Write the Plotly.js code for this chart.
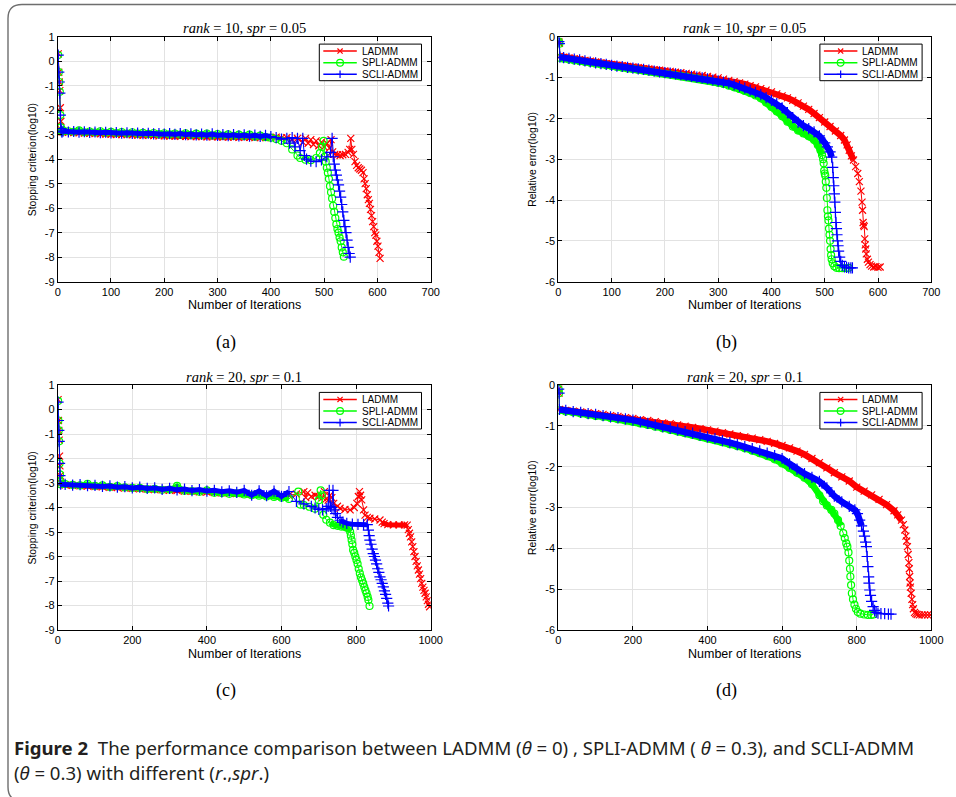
<!DOCTYPE html>
<html><head><meta charset="utf-8">
<script src="https://cdn.plot.ly/plotly-3.0.1.min.js"></script>
<style>html,body{margin:0;padding:0;background:#fff;} #chart{width:956px;height:797px;}</style>
</head><body><div id="chart"></div>
<script>
// ---------------- DATA ----------------
const seriesNames = ['LADMM', 'SPLI-ADMM', 'SCLI-ADMM'];
const panelTitles = ['<i>rank</i> = 10, <i>spr</i> = 0.05', '<i>rank</i> = 10, <i>spr</i> = 0.05', '<i>rank</i> = 20, <i>spr</i> = 0.1', '<i>rank</i> = 20, <i>spr</i> = 0.1'];
const panelLetters = ['(a)', '(b)', '(c)', '(d)'];
const yTitles = ['Stopping criterion(log10)', 'Relative error(log10)', 'Stopping criterion(log10)', 'Relative error(log10)'];
const xTitle = 'Number of Iterations';
const xTicksAB = [0, 100, 200, 300, 400, 500, 600, 700];
const xTicksCD = [0, 200, 400, 600, 800, 1000];
const yTicksSC = [-9, -8, -7, -6, -5, -4, -3, -2, -1, 0, 1];
const yTicksRE = [-6, -5, -4, -3, -2, -1, 0];

// Panel (a): stopping criterion, rank=10, spr=0.05
const itA_head = [1, 2, 3, 4, 5, 6, 7, 8];
const itA_body = [10, 20, 30, 40, 50, 60, 70, 80, 90, 100, 110, 120, 130, 140, 150, 160, 170, 180, 190, 200, 210, 220, 230, 240, 250, 260, 270, 280, 290, 300, 310, 320, 330, 340, 350, 360, 370, 380, 390, 400];
const scA_LADMM_head = [0.3, -0.45, -0.85, -1.2, -1.9, -2.45, -2.8, -2.88];
const scA_LADMM_body = [-2.88, -2.9, -2.91, -2.92, -2.93, -2.94, -2.95, -2.96, -2.97, -2.98, -2.99, -3.0, -3.0, -3.01, -3.02, -3.03, -3.03, -3.04, -3.05, -3.05, -3.06, -3.06, -3.07, -3.07, -3.08, -3.08, -3.08, -3.09, -3.09, -3.09, -3.1, -3.1, -3.1, -3.11, -3.11, -3.11, -3.12, -3.12, -3.12, -3.12];
const itA_LADMM_tail = [410, 420, 430, 440, 450, 460, 465, 470, 475, 480, 485, 490, 495, 500, 505, 510, 513, 516, 520, 525, 530, 535, 540, 545, 548, 550, 552, 555, 558, 561, 564, 567, 570, 573, 575, 577, 579, 581, 583, 585, 587, 589, 591, 593, 595, 597, 599, 601, 603, 605];
const scA_LADMM_tail = [-3.1, -3.13, -3.12, -3.2, -3.15, -3.3, -3.15, -3.35, -3.2, -3.4, -3.25, -3.45, -3.3, -3.5, -3.35, -3.55, -3.2, -3.7, -3.8, -3.82, -3.85, -3.82, -3.8, -3.72, -3.6, -3.15, -3.6, -3.8, -4.1, -4.25, -4.35, -4.4, -4.45, -4.55, -4.8, -5.0, -5.2, -5.45, -5.65, -5.8, -6.05, -6.3, -6.55, -6.75, -7.0, -7.1, -7.35, -7.55, -7.8, -8.05];
const scA_SPLI_head = [0.25, -0.45, -0.85, -1.25, -2.2, -2.7, -2.85, -2.88];
const scA_SPLI_body = [-2.83, -2.86, -2.88, -2.82, -2.9, -2.87, -2.91, -2.86, -2.92, -2.88, -2.93, -2.89, -2.95, -2.9, -2.96, -2.92, -2.97, -2.93, -2.98, -2.94, -2.99, -2.95, -3.0, -2.94, -3.01, -2.96, -3.02, -2.95, -3.03, -2.98, -3.04, -2.99, -3.05, -3.0, -3.06, -3.0, -3.08, -3.04, -3.1, -3.12];
const itA_SPLI_tail = [410, 420, 430, 440, 450, 455, 465, 475, 485, 492, 496, 499, 501, 503, 505, 507, 509, 511, 513, 515, 517, 519, 521, 523, 525, 527, 529, 531, 533, 535, 537];
const scA_SPLI_tail = [-3.18, -3.25, -3.35, -3.6, -3.85, -3.95, -4.02, -4.04, -3.95, -3.75, -3.5, -3.25, -3.9, -4.1, -4.35, -4.55, -4.8, -5.1, -5.35, -5.6, -5.9, -6.15, -6.4, -6.65, -6.85, -7.0, -7.2, -7.35, -7.6, -7.8, -7.98];
const scA_SCLI_head = [0.25, -0.45, -0.85, -1.3, -2.2, -2.75, -2.85, -2.9];
const scA_SCLI_body = [-2.86, -2.89, -2.87, -2.9, -2.88, -2.91, -2.89, -2.92, -2.9, -2.93, -2.91, -2.94, -2.92, -2.95, -2.93, -2.96, -2.94, -2.97, -2.95, -2.98, -2.96, -2.99, -2.95, -3.0, -2.97, -3.01, -2.98, -3.02, -2.97, -3.03, -3.0, -3.04, -3.0, -3.05, -3.01, -3.06, -3.02, -3.07, -3.03, -3.08];
const itA_SCLI_tail = [410, 420, 430, 435, 440, 445, 450, 455, 460, 463, 467, 475, 485, 495, 505, 512, 515, 517, 519, 521, 523, 525, 527, 529, 531, 533, 535, 537, 539, 541, 543, 545, 547, 549];
const scA_SCLI_tail = [-3.12, -3.18, -3.15, -3.35, -3.12, -3.5, -3.15, -3.65, -3.15, -3.85, -4.0, -4.08, -4.1, -4.03, -3.9, -3.72, -3.15, -3.9, -4.2, -4.45, -4.65, -4.85, -5.05, -5.3, -5.55, -5.85, -6.15, -6.5, -6.75, -7.0, -7.3, -7.6, -7.85, -8.0];

// Panel (b): relative error, rank=10, spr=0.05
const itB_head = [1, 2, 3];
const itB_body = [10, 20, 30, 40, 50, 60, 70, 80, 90, 100, 110, 120, 130, 140, 150, 160, 170, 180, 190, 200, 210, 220, 230, 240, 250, 260, 270, 280, 290, 300, 310, 320, 330, 340, 350, 360, 370, 380, 390, 400, 410, 420, 430, 440, 450, 460, 470, 480];
const reB_LADMM_head = [-0.12, -0.16, -0.48];
const reB_LADMM_body = [-0.50, -0.52, -0.54, -0.56, -0.58, -0.60, -0.62, -0.64, -0.66, -0.68, -0.70, -0.71, -0.73, -0.74, -0.76, -0.78, -0.79, -0.81, -0.82, -0.84, -0.85, -0.87, -0.88, -0.90, -0.92, -0.94, -0.95, -0.97, -0.99, -1.01, -1.04, -1.07, -1.10, -1.13, -1.16, -1.20, -1.23, -1.27, -1.31, -1.35, -1.40, -1.45, -1.50, -1.56, -1.62, -1.70, -1.78, -1.88];
const itB_LADMM_tail = [490, 500, 510, 520, 530, 537, 542, 546, 550, 554, 558, 562, 565, 568, 570, 571, 572, 573, 574, 575, 576, 577, 578, 580, 582, 585, 588, 592, 596, 600, 604];
const reB_LADMM_tail = [-1.98, -2.09, -2.20, -2.31, -2.42, -2.53, -2.65, -2.78, -2.92, -3.02, -3.18, -3.35, -3.55, -3.78, -4.05, -4.25, -4.55, -4.62, -4.65, -4.95, -5.1, -5.2, -5.32, -5.45, -5.52, -5.58, -5.62, -5.64, -5.63, -5.65, -5.64];
const reB_SPLI_head = [-0.12, -0.17, -0.52];
const reB_SPLI_body = [-0.54, -0.56, -0.58, -0.60, -0.62, -0.64, -0.66, -0.68, -0.70, -0.72, -0.74, -0.76, -0.78, -0.79, -0.81, -0.83, -0.85, -0.87, -0.89, -0.91, -0.92, -0.94, -0.96, -0.98, -1.00, -1.02, -1.05, -1.07, -1.10, -1.13, -1.16, -1.20, -1.24, -1.28, -1.33, -1.38, -1.44, -1.51, -1.61, -1.72, -1.83, -1.95, -2.08, -2.20, -2.30, -2.37, -2.44, -2.53];
const itB_SPLI_tail = [487, 492, 495, 497, 498, 499, 500, 501, 502, 503, 504, 505, 506, 507, 508, 509, 510, 511, 512, 513, 515, 518, 522, 527, 533, 540, 545];
const reB_SPLI_tail = [-2.65, -2.78, -2.9, -3.0, -3.1, -3.28, -3.35, -3.4, -3.55, -3.7, -3.95, -4.25, -4.4, -4.5, -4.7, -4.85, -5.0, -5.2, -5.35, -5.45, -5.55, -5.62, -5.66, -5.67, -5.67, -5.67, -5.66];
const reB_SCLI_head = [-0.12, -0.17, -0.5];
const reB_SCLI_body = [-0.51, -0.53, -0.55, -0.57, -0.59, -0.62, -0.64, -0.66, -0.68, -0.70, -0.72, -0.73, -0.75, -0.77, -0.79, -0.80, -0.82, -0.84, -0.86, -0.88, -0.89, -0.91, -0.93, -0.95, -0.97, -0.99, -1.01, -1.03, -1.06, -1.08, -1.11, -1.14, -1.18, -1.22, -1.26, -1.31, -1.36, -1.42, -1.49, -1.56, -1.64, -1.74, -1.86, -1.98, -2.10, -2.18, -2.25, -2.33];
const itB_SCLI_tail = [490, 500, 505, 510, 513, 515, 516, 517, 518, 519, 520, 521, 522, 523, 524, 525, 526, 528, 530, 533, 537, 541, 545, 549, 552];
const reB_SCLI_tail = [-2.43, -2.60, -2.70, -2.82, -2.95, -3.2, -3.45, -3.65, -3.85, -4.05, -4.3, -4.55, -4.7, -4.85, -5.0, -5.12, -5.25, -5.4, -5.5, -5.6, -5.64, -5.65, -5.66, -5.66, -5.66];

// Panel (c): stopping criterion, rank=20, spr=0.1
const itC_head = [1, 2, 3, 4, 5, 6, 7, 8];
const itC_body = [20, 40, 60, 80, 100, 120, 140, 160, 180, 200, 220, 240, 260, 280, 300, 320, 340, 360, 380, 400, 420, 440, 460, 480, 500, 520, 540, 560, 580, 600, 620];
const scC_LADMM_head = [0.4, -0.45, -0.85, -1.25, -1.9, -2.3, -2.7, -3.0];
const scC_LADMM_body = [-3.08, -3.1, -3.12, -3.13, -3.15, -3.16, -3.18, -3.19, -3.21, -3.22, -3.24, -3.25, -3.27, -3.28, -3.3, -3.31, -3.33, -3.34, -3.36, -3.37, -3.39, -3.4, -3.42, -3.43, -3.45, -3.46, -3.48, -3.49, -3.5, -3.52, -3.5];
const itC_LADMM_tail = [640, 660, 665, 670, 680, 690, 700, 710, 715, 720, 725, 730, 735, 740, 750, 757, 770, 784, 795, 802, 806, 809, 812, 815, 820, 824, 830, 837, 850, 864, 870, 875, 885, 900, 915, 930, 937, 940, 943, 946, 949, 952, 955, 958, 961, 964, 967, 970, 973, 976, 979, 982, 985, 988, 991, 994, 997];
const scC_LADMM_tail = [-3.45, -3.35, -3.6, -3.4, -3.55, -3.5, -3.55, -3.6, -3.35, -3.65, -3.7, -3.5, -3.6, -3.83, -3.95, -4.03, -4.08, -4.1, -4.0, -3.83, -3.55, -3.35, -3.5, -3.69, -4.1, -4.31, -4.4, -4.44, -4.47, -4.51, -4.6, -4.66, -4.7, -4.71, -4.71, -4.71, -4.72, -4.9, -5.05, -5.2, -5.4, -5.6, -5.8, -6.0, -6.2, -6.38, -6.55, -6.72, -6.9, -7.1, -7.25, -7.38, -7.5, -7.65, -7.8, -7.95, -8.05];
const scC_SPLI_head = [0.35, -0.45, -0.85, -1.3, -2.2, -2.65, -2.95, -3.05];
const scC_SPLI_body = [-3.04, -3.08, -3.1, -3.03, -3.12, -3.1, -3.16, -3.13, -3.18, -3.2, -3.2, -3.25, -3.24, -3.28, -3.27, -3.12, -3.32, -3.33, -3.36, -3.3, -3.4, -3.41, -3.44, -3.42, -3.47, -3.5, -3.52, -3.55, -3.57, -3.6, -3.65];
const itC_SPLI_tail = [645, 650, 660, 675, 690, 700, 705, 708, 712, 720, 730, 740, 750, 760, 770, 778, 784, 786, 788, 790, 792, 795, 798, 801, 804, 807, 810, 813, 816, 819, 822, 825, 828, 831, 833, 836];
const scC_SPLI_tail = [-3.35, -3.88, -3.9, -3.97, -4.05, -3.7, -3.3, -3.5, -4.3, -4.5, -4.62, -4.72, -4.75, -4.78, -4.8, -4.85, -4.99, -5.15, -5.33, -5.5, -5.73, -5.85, -6.0, -6.14, -6.3, -6.5, -6.69, -6.85, -6.97, -7.1, -7.25, -7.38, -7.5, -7.65, -7.78, -8.02];
const scC_SCLI_head = [0.3, -0.45, -0.85, -1.3, -2.2, -2.7, -3.0, -3.05];
const scC_SCLI_body = [-3.06, -3.09, -3.07, -3.11, -3.1, -3.14, -3.12, -3.17, -3.15, -3.2, -3.17, -3.22, -3.2, -3.26, -3.22, -3.28, -3.25, -3.31, -3.27, -3.33, -3.3, -3.36, -3.32, -3.38, -3.3, -3.5, -3.32, -3.52, -3.33, -3.55, -3.35];
const itC_SCLI_tail = [640, 660, 680, 690, 700, 710, 720, 725, 728, 731, 735, 738, 741, 745, 750, 757, 765, 775, 790, 805, 820, 830, 833, 835, 837, 840, 843, 846, 849, 852, 855, 858, 861, 864, 867, 870, 873, 876, 879, 882, 885, 887];
const scC_SCLI_tail = [-3.75, -3.85, -3.95, -4.02, -4.08, -4.1, -4.05, -3.95, -3.3, -3.95, -4.0, -3.3, -4.1, -4.25, -4.4, -4.52, -4.6, -4.65, -4.68, -4.69, -4.69, -4.7, -4.92, -5.15, -5.33, -5.5, -5.7, -5.88, -6.0, -6.15, -6.3, -6.5, -6.65, -6.83, -6.95, -7.1, -7.24, -7.4, -7.55, -7.71, -7.9, -8.02];

// Panel (d): relative error, rank=20, spr=0.1
const itD_head = [1, 2, 3];
const itD_body = [20, 40, 60, 80, 100, 120, 140, 160, 180, 200, 220, 240, 260, 280, 300, 320, 340, 360, 380, 400, 420, 440, 460, 480, 500, 520, 540, 560, 580, 600];
const reD_LADMM_head = [-0.1, -0.2, -0.6];
const reD_LADMM_body = [-0.62, -0.64, -0.66, -0.68, -0.7, -0.72, -0.75, -0.77, -0.8, -0.82, -0.85, -0.87, -0.9, -0.93, -0.95, -0.98, -1.01, -1.04, -1.07, -1.1, -1.13, -1.17, -1.2, -1.24, -1.27, -1.3, -1.34, -1.38, -1.43, -1.48];
const itD_LADMM_tail = [620, 640, 660, 680, 700, 720, 740, 760, 780, 800, 820, 840, 860, 880, 900, 910, 920, 925, 929, 932, 934, 936, 938, 940, 941, 942, 943, 944, 946, 948, 950, 952, 955, 958, 962, 968, 975, 982, 990, 998];
const reD_LADMM_tail = [-1.54, -1.62, -1.7, -1.8, -1.9, -2.03, -2.15, -2.25, -2.35, -2.5, -2.6, -2.69, -2.8, -2.93, -3.08, -3.18, -3.31, -3.42, -3.55, -3.7, -3.82, -3.96, -4.15, -4.35, -4.5, -4.69, -4.85, -4.95, -5.1, -5.25, -5.38, -5.48, -5.57, -5.6, -5.62, -5.63, -5.63, -5.63, -5.63, -5.63];
const reD_SPLI_head = [-0.1, -0.2, -0.62];
const reD_SPLI_body = [-0.65, -0.67, -0.7, -0.73, -0.76, -0.78, -0.81, -0.84, -0.87, -0.9, -0.94, -0.98, -1.02, -1.06, -1.1, -1.14, -1.18, -1.22, -1.27, -1.31, -1.35, -1.4, -1.45, -1.5, -1.55, -1.61, -1.67, -1.74, -1.82, -1.92];
const itD_SPLI_tail = [620, 640, 660, 680, 700, 710, 720, 732, 740, 750, 757, 764, 768, 772, 775, 778, 780, 782, 783, 785, 787, 790, 794, 798, 803, 810, 820, 830, 839, 845];
const reD_SPLI_tail = [-2.03, -2.15, -2.27, -2.43, -2.7, -2.85, -2.95, -3.06, -3.15, -3.31, -3.45, -3.63, -3.75, -3.88, -3.96, -4.1, -4.3, -4.5, -4.69, -4.9, -5.1, -5.25, -5.38, -5.48, -5.56, -5.6, -5.62, -5.63, -5.63, -5.62];
const reD_SCLI_head = [-0.1, -0.2, -0.6];
const reD_SCLI_body = [-0.62, -0.65, -0.67, -0.7, -0.72, -0.75, -0.78, -0.8, -0.83, -0.86, -0.9, -0.94, -0.98, -1.02, -1.06, -1.1, -1.14, -1.18, -1.23, -1.27, -1.31, -1.36, -1.41, -1.46, -1.51, -1.56, -1.61, -1.67, -1.73, -1.8];
const itD_SCLI_tail = [620, 640, 660, 680, 700, 720, 740, 760, 780, 795, 802, 808, 813, 818, 821, 824, 826, 828, 830, 832, 833, 835, 837, 840, 844, 848, 852, 857, 865, 875, 885, 892];
const reD_SCLI_tail = [-1.93, -2.06, -2.17, -2.26, -2.36, -2.52, -2.72, -2.86, -2.97, -3.06, -3.15, -3.31, -3.45, -3.58, -3.7, -3.85, -3.96, -4.2, -4.45, -4.7, -4.85, -5.02, -5.15, -5.3, -5.43, -5.52, -5.57, -5.59, -5.6, -5.6, -5.61, -5.61];

const captionLine1 = '<b>Figure 2</b>  The performance comparison between LADMM (<i>θ</i> = 0) , SPLI-ADMM ( <i>θ</i> = 0.3), and SCLI-ADMM';
const captionLine2 = '(<i>θ</i> = 0.3) with different (<i>r</i>.,<i>spr</i>.)';

// ---------------- STYLE / LAYOUT ----------------
const W = 956, H = 797;
const X = p => p / W, Y = p => 1 - p / H;
const colors = ['#ff0000', '#00ff00', '#0000ff'];
const symbols = ['x-thin-open', 'circle-open', 'cross-thin-open'];
const msizes = [7, 7, 8];

// plot areas in pixels [left, right, top, bottom]
const boxes = [
  [57.7, 430.7, 36.7, 281.7],
  [558.3, 931.3, 36.7, 281.7],
  [57.7, 430.7, 385, 630],
  [558.3, 931.3, 385, 630]
];

// iteration ranges where the per-iteration markers merge into a dense band (drawn as a thick stroke)
const denseRanges = [
  [[[10, 400]], [[10, 400]], [[10, 400]]],
  [[[3, 554]], [[3, 495]], [[3, 513]]],
  [[[8, 620], [870, 937]], [[8, 640], [730, 784]], [[8, 620], [757, 830]]],
  [[[3, 920]], [[3, 757]], [[3, 813]]]
];
const bandWidth = [5, 6.5, 5, 6.5];

function trace(xs, ys, k, ax) {
  return {
    type: 'scatter', mode: 'lines+markers', x: xs, y: ys,
    xaxis: 'x' + ax, yaxis: 'y' + ax, showlegend: false, hoverinfo: 'skip',
    line: {color: colors[k], width: 1},
    marker: {symbol: symbols[k], size: msizes[k], color: colors[k], line: {color: colors[k], width: 1.2}}
  };
}
function band(xs, ys, k, ax, ranges, w) {
  const bx = [], by = [];
  ranges.forEach((r, j) => {
    if (j > 0) { bx.push(null); by.push(null); }
    xs.forEach((v, i) => { if (v >= r[0] && v <= r[1]) { bx.push(v); by.push(ys[i]); } });
  });
  return {
    type: 'scatter', mode: 'lines', x: bx, y: by, connectgaps: false,
    xaxis: 'x' + ax, yaxis: 'y' + ax, showlegend: false, hoverinfo: 'skip',
    line: {color: colors[k], width: w}
  };
}
const cat = (...a) => [].concat(...a);

const series = [
  [cat(itA_head, itA_body, itA_LADMM_tail), cat(scA_LADMM_head, scA_LADMM_body, scA_LADMM_tail)],
  [cat(itA_head, itA_body, itA_SPLI_tail), cat(scA_SPLI_head, scA_SPLI_body, scA_SPLI_tail)],
  [cat(itA_head, itA_body, itA_SCLI_tail), cat(scA_SCLI_head, scA_SCLI_body, scA_SCLI_tail)],
  [cat(itB_head, itB_body, itB_LADMM_tail), cat(reB_LADMM_head, reB_LADMM_body, reB_LADMM_tail)],
  [cat(itB_head, itB_body, itB_SPLI_tail), cat(reB_SPLI_head, reB_SPLI_body, reB_SPLI_tail)],
  [cat(itB_head, itB_body, itB_SCLI_tail), cat(reB_SCLI_head, reB_SCLI_body, reB_SCLI_tail)],
  [cat(itC_head, itC_body, itC_LADMM_tail), cat(scC_LADMM_head, scC_LADMM_body, scC_LADMM_tail)],
  [cat(itC_head, itC_body, itC_SPLI_tail), cat(scC_SPLI_head, scC_SPLI_body, scC_SPLI_tail)],
  [cat(itC_head, itC_body, itC_SCLI_tail), cat(scC_SCLI_head, scC_SCLI_body, scC_SCLI_tail)],
  [cat(itD_head, itD_body, itD_LADMM_tail), cat(reD_LADMM_head, reD_LADMM_body, reD_LADMM_tail)],
  [cat(itD_head, itD_body, itD_SPLI_tail), cat(reD_SPLI_head, reD_SPLI_body, reD_SPLI_tail)],
  [cat(itD_head, itD_body, itD_SCLI_tail), cat(reD_SCLI_head, reD_SCLI_body, reD_SCLI_tail)]
];
const data = [];
series.forEach((s, idx) => {
  const p = Math.floor(idx / 3), k = idx % 3, ax = p === 0 ? '' : String(p + 1);
  data.push(band(s[0], s[1], k, ax, denseRanges[p][k], bandWidth[p]));
  data.push(trace(s[0], s[1], k, ax));
});

const tickFont = {family: 'Liberation Sans, Arial, sans-serif', size: 11, color: '#000'};
const axCommon = {
  showline: true, linecolor: '#000', linewidth: 1, mirror: 'ticks',
  ticks: 'inside', ticklen: 4, tickwidth: 1, tickcolor: '#000',
  showgrid: true, gridcolor: '#e2e2e2', gridwidth: 1, zeroline: false,
  tickfont: tickFont, fixedrange: true, tickmode: 'array'
};
function xAx(b, ticks, anchor) {
  return Object.assign({}, axCommon, {domain: [X(b[0]), X(b[1])], range: [ticks[0], ticks[ticks.length - 1]], tickvals: ticks, ticktext: ticks.map(String), anchor: anchor});
}
function yAx(b, ticks, anchor) {
  return Object.assign({}, axCommon, {domain: [Y(b[3]), Y(b[2])], range: [ticks[0], ticks[ticks.length - 1]], tickvals: ticks, ticktext: ticks.map(String), anchor: anchor});
}

const annotations = [];
const shapes = [];
const labelFont = {family: 'Liberation Sans, Arial, sans-serif', size: 12.5, color: '#000'};
const ylabelFont = {family: 'Liberation Sans, Arial, sans-serif', size: 10.4, color: '#000'};
const titleFont = {family: 'Liberation Serif, Times New Roman, serif', size: 14.5, color: '#000'};
const letterFont = {family: 'Liberation Serif, Times New Roman, serif', size: 18, color: '#000'};
const legFont = {family: 'Liberation Sans, Arial, sans-serif', size: 10, color: '#000'};

function ann(x, y, text, font, extra) {
  annotations.push(Object.assign({xref: 'paper', yref: 'paper', x: X(x), y: Y(y), text: text, showarrow: false, font: font, xanchor: 'center', yanchor: 'middle'}, extra || {}));
}

boxes.forEach((b, i) => {
  const cx = (b[0] + b[1]) / 2, cy = (b[2] + b[3]) / 2;
  ann(cx, b[2] - 8.5, panelTitles[i], titleFont);
  ann(cx, b[3] + 23.5, xTitle, labelFont);
  ann(b[0] - 25.7, cy, yTitles[i], ylabelFont, {textangle: -90});
  ann(cx - 18.5, b[3] + 60.5, panelLetters[i], letterFont);

  // legend box
  const lx0 = b[1] - 111.4, lx1 = b[1] - 9.2, ly0 = b[2] + 7.4, ly1 = b[2] + 44;
  shapes.push({type: 'rect', xref: 'paper', yref: 'paper', x0: X(lx0), x1: X(lx1), y0: Y(ly1), y1: Y(ly0), line: {color: '#000', width: 1}, fillcolor: '#fff', layer: 'above'});
  seriesNames.forEach((nm, k) => {
    const ry = ly0 + 7 + k * 11.6;
    const sx0 = lx0 + 4, sx1 = lx0 + 37.5, mx = (sx0 + sx1) / 2;
    shapes.push({type: 'line', xref: 'paper', yref: 'paper', x0: X(sx0), x1: X(sx1), y0: Y(ry), y1: Y(ry), line: {color: colors[k], width: 1.5}, layer: 'above'});
    const mk = {xref: 'paper', yref: 'paper', xsizemode: 'pixel', ysizemode: 'pixel', xanchor: X(mx), yanchor: Y(ry), line: {color: colors[k], width: 1.2}, layer: 'above'};
    if (k === 0) shapes.push(Object.assign({type: 'path', path: 'M-2.6,-2.6L2.6,2.6M-2.6,2.6L2.6,-2.6'}, mk));
    if (k === 1) shapes.push(Object.assign({type: 'circle', x0: -3.4, x1: 3.4, y0: -3.4, y1: 3.4, fillcolor: 'rgba(0,0,0,0)'}, mk));
    if (k === 2) shapes.push(Object.assign({type: 'path', path: 'M-3.8,0L3.8,0M0,-3.8L0,3.8'}, mk));
    ann(lx0 + 40.5, ry, nm, legFont, {xanchor: 'left'});
  });
});

// caption
const capFont = {family: 'Noto Sans, Open Sans, sans-serif', size: 18.6, color: '#231f20'};
ann(12, 747, captionLine1, capFont, {xanchor: 'left'});
ann(12, 772, captionLine2, capFont, {xanchor: 'left'});

// figure frame (rounded rectangle, open to the right)
const fx = 8, fy0 = 4.5, fy1 = 801, fr = 14, fR = 990;
shapes.push({type: 'path', xref: 'paper', yref: 'paper', layer: 'above',
  path: `M ${X(fR)},${Y(fy0)} L ${X(fx + fr)},${Y(fy0)} Q ${X(fx)},${Y(fy0)} ${X(fx)},${Y(fy0 + fr)} L ${X(fx)},${Y(fy1 - fr)} Q ${X(fx)},${Y(fy1)} ${X(fx + fr)},${Y(fy1)} L ${X(fR)},${Y(fy1)}`,
  line: {color: '#6e6e6e', width: 1.4}});

const layout = {
  width: W, height: H, margin: {l: 0, r: 0, t: 0, b: 0},
  paper_bgcolor: '#fff', plot_bgcolor: '#fff', showlegend: false,
  xaxis: xAx(boxes[0], xTicksAB, 'y'), yaxis: yAx(boxes[0], yTicksSC, 'x'),
  xaxis2: xAx(boxes[1], xTicksAB, 'y2'), yaxis2: yAx(boxes[1], yTicksRE, 'x2'),
  xaxis3: xAx(boxes[2], xTicksCD, 'y3'), yaxis3: yAx(boxes[2], yTicksSC, 'x3'),
  xaxis4: xAx(boxes[3], xTicksCD, 'y4'), yaxis4: yAx(boxes[3], yTicksRE, 'x4'),
  annotations: annotations, shapes: shapes
};

Plotly.newPlot('chart', data, layout, {displayModeBar: false, staticPlot: true});
</script></body></html>
